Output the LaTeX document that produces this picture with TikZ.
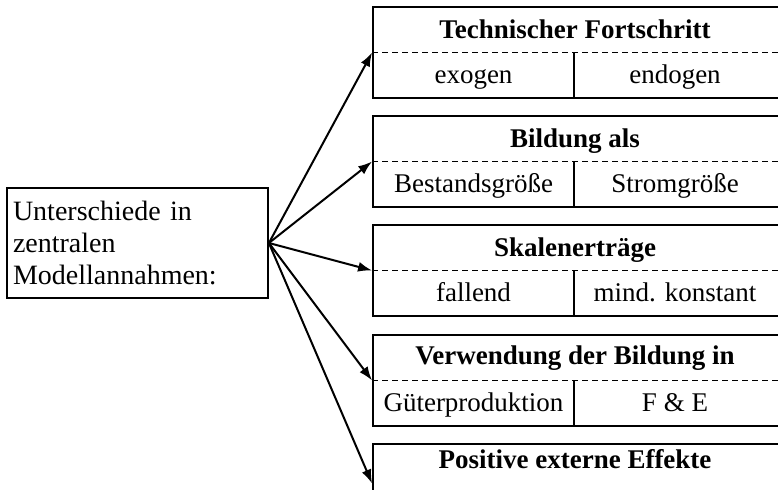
\documentclass[tikz,border=0pt]{standalone}
\usepackage{fontspec}
\setmainfont{Liberation Serif}
\usetikzlibrary{arrows.meta,positioning,calc}
\tikzset{
  mainbox/.style={draw, line width=0.9pt, minimum width=130.5pt,
    minimum height=55pt, text width=124.5pt, inner sep=3pt, align=left,
    font=\fontsize{14}{16}\selectfont},
  catbox/.style={draw, line width=0.9pt, minimum width=203.5pt,
    minimum height=45.5pt, inner sep=0pt},
  cattitle/.style={anchor=base, inner sep=0pt,
    font=\fontsize{13.5}{15}\selectfont\bfseries},
  catcell/.style={anchor=base, inner sep=0pt,
    font=\fontsize{13.5}{15}\selectfont},
  dashline/.style={line width=0.85pt, dash pattern=on 3pt off 2pt},
  divider/.style={line width=0.9pt},
  arrow/.style={-{Latex[length=7pt,width=5pt]}, line width=1pt}
}

\begin{document}
\begin{tikzpicture}[x=0.5pt,y=-0.5pt]
  \useasboundingbox (0,0) rectangle (778,489);
  \clip (0,0) rectangle (778,489);

  \node[mainbox] (annahmen) at (137.5,243)
    {Unterschiede in\\zentralen\\Modellannahmen:};

  % Technischer Fortschritt
  \node[catbox] (tf) at (576.5,52.5) {};
  \draw[dashline] (tf.west) -- (tf.east);
  \draw[divider] ($(tf.center)+(-2.5,0)$) -- ($(tf.south)+(-2.5,0)$);
  \node[cattitle] (tf-t) at (575,38) {Technischer Fortschritt};
  \node[catcell] (tf-l) at (473.5,83) {exogen};
  \node[catcell] (tf-r) at (675,83) {endogen};

  % Bildung als
  \node[catbox] (bi) at (576.5,161.5) {};
  \draw[dashline] (bi.west) -- (bi.east);
  \draw[divider] ($(bi.center)+(-2.5,0)$) -- ($(bi.south)+(-2.5,0)$);
  \node[cattitle] (bi-t) at (575,147) {Bildung als};
  \node[catcell] (bi-l) at (473.5,192) {Bestandsgröße};
  \node[catcell] (bi-r) at (675,192) {Stromgröße};

  % Skalenertraege
  \node[catbox] (sk) at (576.5,270.5) {};
  \draw[dashline] (sk.west) -- (sk.east);
  \draw[divider] ($(sk.center)+(-2.5,0)$) -- ($(sk.south)+(-2.5,0)$);
  \node[cattitle] (sk-t) at (575,256) {Skalenerträge};
  \node[catcell] (sk-l) at (473.5,301) {fallend};
  \node[catcell] (sk-r) at (675,301) {mind. konstant};

  % Verwendung der Bildung
  \node[catbox] (vw) at (576.5,380.5) {};
  \draw[dashline] (vw.west) -- (vw.east);
  \draw[divider] ($(vw.center)+(-2.5,0)$) -- ($(vw.south)+(-2.5,0)$);
  \node[cattitle] (vw-t) at (575,364) {Verwendung der Bildung in};
  \node[catcell] (vw-l) at (473.5,411) {Güterproduktion};
  \node[catcell] (vw-r) at (675,411) {F \& E};

  % Positive externe Effekte
  \node[catbox] (pe) at (576.5,489.5) {};
  \node[cattitle] (pe-t) at (575,468) {Positive externe Effekte};

  \foreach \b in {tf,bi,sk,vw}
    \draw[arrow] (annahmen.east) -- (\b.west);
  \draw[arrow] (annahmen.east) -- ($(pe.west)+(0,-6)$);
\end{tikzpicture}
\end{document}
